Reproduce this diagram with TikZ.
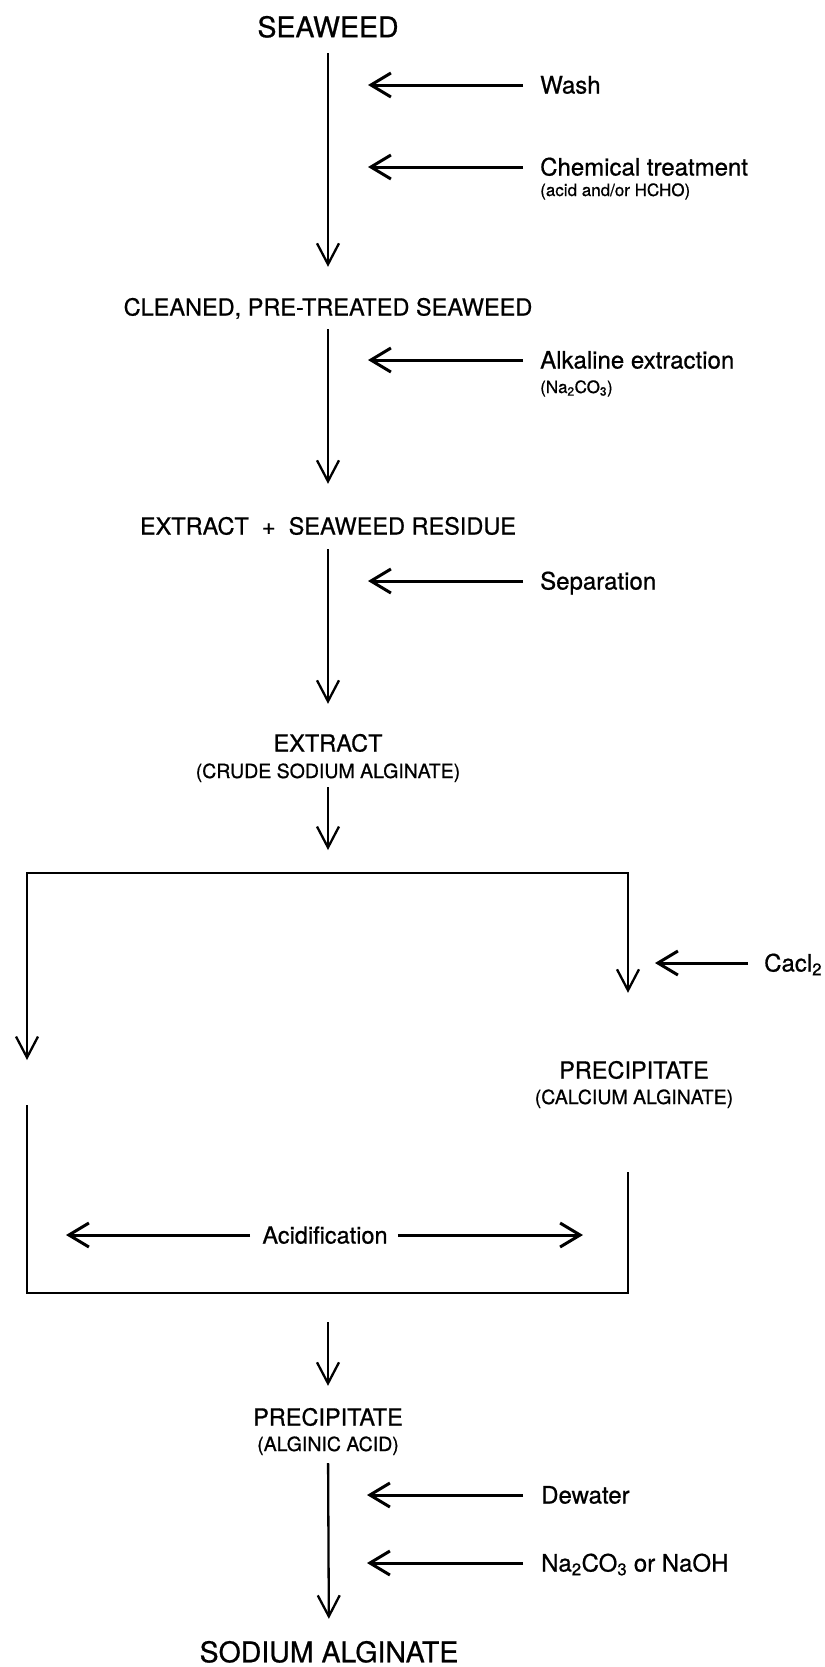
\documentclass[tikz,border=0pt]{standalone}
\usepackage{fontspec}
\setmainfont{TeX Gyre Heros}[FakeBold=0.7]
\usetikzlibrary{arrows.meta}
\begin{document}
\begin{tikzpicture}[x=1bp,y=-1bp,
  big/.style={font=\fontsize{28.5bp}{34bp}\selectfont, inner sep=0pt, text height=20.5bp, text depth=0pt},
  main/.style={font=\fontsize{23.5bp}{28bp}\selectfont, inner sep=0pt, text height=17bp, text depth=0pt},
  lab/.style={font=\fontsize{24bp}{28bp}\selectfont, inner sep=0pt, text height=17bp, text depth=0pt, anchor=west},
  subcap/.style={font=\fontsize{19.5bp}{23bp}\selectfont, inner sep=0pt, text height=14bp, text depth=0pt},
  small/.style={font=\fontsize{17bp}{20bp}\selectfont, inner sep=0pt, text height=12bp, text depth=0pt, anchor=west},
  flow/.style={line width=2.3bp, line join=miter, -{Straight Barb[length=21bp,width=22bp]}},
  side/.style={line width=3bp, -{Straight Barb[length=20bp,width=24bp]}, shorten <=17bp},
  frame/.style={line width=2.5bp, line join=miter},
]
\fill[white] (0,0) rectangle (825,1667);
\useasboundingbox (0,0) rectangle (825,1667);

% main column
\node[big] (seaweed) at (328,27) {SEAWEED};
\node[main] (cleaned) at (328,307) {CLEANED, PRE-TREATED SEAWEED};
\node[main] (extres) at (328,526) {EXTRACT\ \ +\ \ SEAWEED RESIDUE};
\node[main] (extract) at (328,743) {EXTRACT};
\node[subcap] (extractsub) at (328,771) {(CRUDE SODIUM ALGINATE)};
\node[main] (precal) at (634,1070) {PRECIPITATE};
\node[subcap] (precalsub) at (634,1097) {(CALCIUM ALGINATE)};
\node[main] (acid) at (325,1235) {Acidification};
\node[main] (prealg) at (328,1417) {PRECIPITATE};
\node[subcap] (prealgsub) at (328,1444) {(ALGINIC ACID)};
\node[big] (sodium) at (329,1652) {SODIUM ALGINATE};

% side labels
\node[lab] (wash) at (540,85) {Wash};
\node[lab] (chem) at (540,167) {Chemical treatment};
\node[small] (chemsub) at (540,190) {(acid and/or HCHO)};
\node[lab] (alk) at (540,360) {Alkaline extraction};
\node[small] (alksub) at (540,387) {(Na\textsubscript{2}CO\textsubscript{3})};
\node[lab] (sep) at (540,581) {Separation};
\node[lab] (cacl) at (764,963) {Cacl\textsubscript{2}};
\node[lab] (dew) at (541,1495) {Dewater};
\node[lab] (naoh) at (541,1563) {Na\textsubscript{2}CO\textsubscript{3} or NaOH};

% coordinates
\coordinate (tl) at (27,873);
\coordinate (tr) at (628,873);
\coordinate (ltip) at (27,1060);
\coordinate (lrest) at (27,1105);
\coordinate (bl) at (27,1293);
\coordinate (br) at (628,1293);
\coordinate (rrest) at (628,1172);
\coordinate (acidL) at (66,1235);
\coordinate (acidR) at (583,1235);
\coordinate (washtip) at (368,85);
\coordinate (chemtip) at (368,167);
\coordinate (alktip) at (368,360);
\coordinate (septip) at (368,581);
\coordinate (cacltip) at (655,963);
\coordinate (dewtip) at (367,1495);
\coordinate (naohtip) at (367,1563);

% main flow arrows
\draw[flow, shorten <=15.75bp, shorten >=31.5bp] (seaweed) -- (cleaned);
\draw[flow, shorten <=13.5bp, shorten >=33.5bp] (cleaned) -- (extres);
\draw[flow, shorten <=14.5bp, shorten >=30.5bp] (extres) -- (extract);
\draw[flow, shorten <=9bp, shorten >=23bp] (extractsub) -- (extractsub |- tl);

% frame
\draw[flow] (tr) -- (tl) -- (ltip);
\draw[flow, shorten >=68.5bp] (tl) -- (tr) -- (tr |- precal.north);
\draw[frame] (lrest) -- (bl) -- (br) -- (rrest);
\draw[side, shorten <=12bp] (acid) -- (acidL);
\draw[side, shorten <=10bp] (acid) -- (acidR);

\draw[flow, shorten <=29bp, shorten >=22.5bp] (bl -| prealg) -- (prealg);
\draw[flow, shorten <=12bp, shorten >=22.75bp] (prealgsub) -- (sodium);

% side arrows
\draw[side] (wash) -- (washtip);
\draw[side] (chem) -- (chemtip);
\draw[side] (alk) -- (alktip);
\draw[side] (sep) -- (septip);
\draw[side, shorten <=16bp] (cacl) -- (cacltip);
\draw[side, shorten <=18bp] (dew) -- (dewtip);
\draw[side, shorten <=18bp] (naoh) -- (naohtip);
\end{tikzpicture}
\end{document}
